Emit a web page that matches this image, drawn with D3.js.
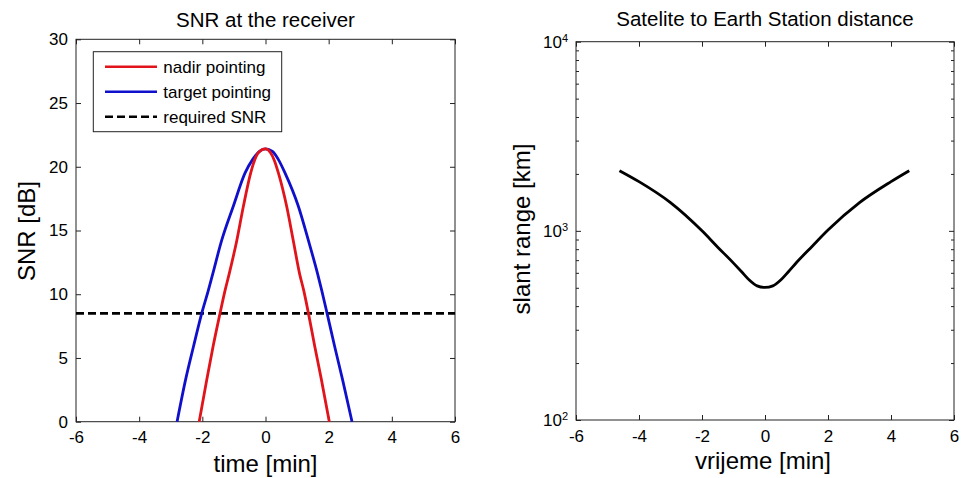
<!DOCTYPE html>
<meta charset="utf-8">
<title>SNR at the receiver / slant range</title>
<script src="https://cdn.jsdelivr.net/npm/d3@7"></script>
<style>
body { margin: 0; background: #fff; }
svg { display: block; font-family: "Liberation Sans", Arial, sans-serif; }
</style>
<body>
<svg id="chart" width="966" height="478"></svg>
<script>

// --- left panel: SNR at the receiver
var nadirTime = [-2.10, -1.86, -1.66, -1.44, -1.28, -1.15, -0.91, -0.70, -0.47, -0.30, -0.14, 0, 0.16, 0.28, 0.41, 0.67, 0.88, 1.08, 1.21, 1.36, 1.56, 1.77, 2.02];
var nadirSnr  = [0, 3.3, 5.9, 8.5, 10.3, 11.6, 14.2, 16.9, 19.5, 20.8, 21.3, 21.4, 21.1, 20.5, 19.5, 16.9, 14.2, 11.6, 10.3, 8.5, 5.9, 3.3, 0];
var targetTime = [-2.80, -2.53, -2.28, -2.02, -1.81, -1.67, -1.39, -1.02, -0.65, -0.40, -0.20, 0, 0.22, 0.40, 0.62, 1.04, 1.36, 1.65, 1.78, 1.95, 2.19, 2.44, 2.74];
var targetSnr  = [0, 3.3, 5.9, 8.5, 10.3, 11.6, 14.2, 16.9, 19.5, 20.6, 21.2, 21.4, 21.2, 20.6, 19.5, 16.9, 14.2, 11.6, 10.3, 8.5, 5.9, 3.3, 0];
var requiredSnr = 8.5;
var timeTicks = [-6, -4, -2, 0, 2, 4, 6];
var snrTicks = [0, 5, 10, 15, 20, 25, 30];
var legendNames = ["nadir pointing", "target pointing", "required SNR"];

// --- right panel: satellite to earth station distance
var rangeTime = [-4.62, -4, -3, -2, -1.5, -1, -0.75, -0.5, -0.25, 0, 0.25, 0.5, 0.75, 1, 1.5, 2, 3, 4, 4.58];
var rangeKm   = [2080, 1820, 1410, 1000, 820, 675, 610, 550, 512, 502, 512, 550, 610, 680, 830, 1010, 1410, 1820, 2080];
var rangeTicks = [100, 1000, 10000];
var rangeMinor = [200, 300, 400, 500, 600, 700, 800, 900, 2000, 3000, 4000, 5000, 6000, 7000, 8000, 9000];

var RED = "#e0141a", BLUE = "#1010cc", INK = "#222";

var svg = d3.select("#chart");

function zip(xs, ys) { return xs.map(function(x, i) { return [x, ys[i]]; }); }

function styleAxis(g, fs) {
  g.select(".domain").remove();
  g.selectAll(".tick line").attr("stroke", INK);
  g.selectAll(".tick text").attr("fill", "#000").attr("font-size", fs || 17)
    .attr("font-family", "'Liberation Sans', Arial, sans-serif");
}

// ================= left panel =================
var x1 = d3.scaleLinear().domain([-6, 6]).range([76, 455]);
var y1 = d3.scaleLinear().domain([0, 30]).range([421.7, 39.3]);

var p1 = svg.append("g");

p1.append("g").attr("transform", "translate(0,421.7)")
  .call(d3.axisBottom(x1).tickValues(timeTicks).tickSize(-5).tickPadding(9).tickFormat(function(d) { return String(d); }))
  .call(styleAxis);
p1.append("g").attr("transform", "translate(0,39.3)")
  .call(d3.axisTop(x1).tickValues(timeTicks).tickSize(-5).tickFormat(""))
  .call(styleAxis);
p1.append("g").attr("transform", "translate(76,0)")
  .call(d3.axisLeft(y1).tickValues(snrTicks).tickSize(-5).tickPadding(8))
  .call(styleAxis);
p1.append("g").attr("transform", "translate(455,0)")
  .call(d3.axisRight(y1).tickValues(snrTicks).tickSize(-5).tickFormat(""))
  .call(styleAxis);

p1.append("rect").attr("x", x1(-6)).attr("y", y1(30))
  .attr("width", x1(6) - x1(-6)).attr("height", y1(0) - y1(30))
  .attr("fill", "none").attr("stroke", INK).attr("stroke-width", 1);

var snrLine = d3.line().x(function(d) { return x1(d[0]); }).y(function(d) { return y1(d[1]); })
  .curve(d3.curveMonotoneX);

p1.append("line")
  .attr("x1", x1(-6)).attr("x2", x1(6)).attr("y1", y1(requiredSnr)).attr("y2", y1(requiredSnr))
  .attr("stroke", "#000").attr("stroke-width", 2.6).attr("stroke-dasharray", "8,4");
p1.append("path").datum(zip(targetTime, targetSnr)).attr("d", snrLine)
  .attr("fill", "none").attr("stroke", BLUE).attr("stroke-width", 2.8);
p1.append("path").datum(zip(nadirTime, nadirSnr)).attr("d", snrLine)
  .attr("fill", "none").attr("stroke", RED).attr("stroke-width", 2.8);

// legend
var lg = p1.append("g").attr("transform", "translate(93.3,51.7)");
lg.append("rect").attr("width", 188.4).attr("height", 80)
  .attr("fill", "#fff").attr("stroke", INK).attr("stroke-width", 1);
var legendStyles = [
  { color: RED, dash: null },
  { color: BLUE, dash: null },
  { color: "#000", dash: "8,4" }
];
legendNames.forEach(function(name, i) {
  var ly = 15 + i * 25;
  lg.append("line").attr("x1", 11.7).attr("x2", 63.7).attr("y1", ly).attr("y2", ly)
    .attr("stroke", legendStyles[i].color).attr("stroke-width", 2.6)
    .attr("stroke-dasharray", legendStyles[i].dash);
  lg.append("text").attr("x", 70).attr("y", ly + 6).attr("font-size", 17).text(name);
});

p1.append("text").attr("x", 265.5).attr("y", 27).attr("text-anchor", "middle")
  .attr("font-size", 20.5).text("SNR at the receiver");
p1.append("text").attr("x", 265.5).attr("y", 472).attr("text-anchor", "middle")
  .attr("font-size", 24).text("time [min]");
p1.append("text").attr("transform", "translate(35,231) rotate(-90)").attr("text-anchor", "middle")
  .attr("font-size", 24).text("SNR [dB]");

// ================= right panel =================
var x2 = d3.scaleLinear().domain([-6, 6]).range([576, 954]);
var y2 = d3.scaleLog().domain([100, 10000]).range([420, 41.7]);

var p2 = svg.append("g");

p2.append("g").attr("transform", "translate(0,420)")
  .call(d3.axisBottom(x2).tickValues(timeTicks).tickSize(-5).tickPadding(10).tickFormat(function(d) { return String(d); }))
  .call(styleAxis);
p2.append("g").attr("transform", "translate(0,41.7)")
  .call(d3.axisTop(x2).tickValues(timeTicks).tickSize(-5).tickFormat(""))
  .call(styleAxis);

var yl = p2.append("g").attr("transform", "translate(576,0)")
  .call(d3.axisLeft(y2).tickValues(rangeTicks).tickSize(-5).tickPadding(8).tickFormat(function() { return "10"; }))
  .call(styleAxis);
yl.selectAll(".tick text").append("tspan")
  .attr("dy", "-0.55em").attr("font-size", 11)
  .text(function(d) { return Math.round(Math.log10(d)); });

p2.append("g").attr("transform", "translate(576,0)")
  .call(d3.axisLeft(y2).tickValues(rangeMinor).tickSize(-3).tickFormat(""))
  .call(styleAxis);
p2.append("g").attr("transform", "translate(954,0)")
  .call(d3.axisRight(y2).tickValues(rangeTicks).tickSize(-5).tickFormat(""))
  .call(styleAxis);
p2.append("g").attr("transform", "translate(954,0)")
  .call(d3.axisRight(y2).tickValues(rangeMinor).tickSize(-3).tickFormat(""))
  .call(styleAxis);

p2.append("rect").attr("x", x2(-6)).attr("y", y2(10000))
  .attr("width", x2(6) - x2(-6)).attr("height", y2(100) - y2(10000))
  .attr("fill", "none").attr("stroke", INK).attr("stroke-width", 1);

var rangeLine = d3.line().x(function(d) { return x2(d[0]); }).y(function(d) { return y2(d[1]); })
  .curve(d3.curveMonotoneX);
p2.append("path").datum(zip(rangeTime, rangeKm)).attr("d", rangeLine)
  .attr("fill", "none").attr("stroke", "#000").attr("stroke-width", 2.8);

p2.append("text").attr("x", 765).attr("y", 26).attr("text-anchor", "middle")
  .attr("font-size", 20.5).text("Satelite to Earth Station distance");
p2.append("text").attr("x", 763).attr("y", 469).attr("text-anchor", "middle")
  .attr("font-size", 24).text("vrijeme [min]");
p2.append("text").attr("transform", "translate(530,229) rotate(-90)").attr("text-anchor", "middle")
  .attr("font-size", 24).text("slant range [km]");

</script>
</body>
